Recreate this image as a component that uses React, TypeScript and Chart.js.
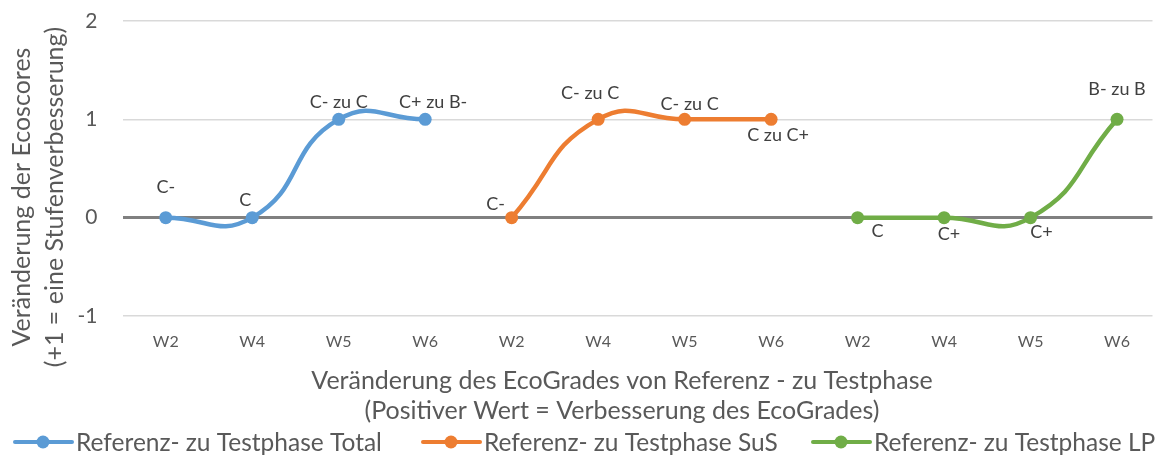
import React, { useEffect, useRef } from 'react';
import { Chart, registerables } from 'chart.js';

Chart.register(...registerables);

const categories = ['W2', 'W4', 'W5', 'W6', 'W2', 'W4', 'W5', 'W6', 'W2', 'W4', 'W5', 'W6'];
const seriesNames = [
  'Referenz- zu Testphase Total',
  'Referenz- zu Testphase SuS',
  'Referenz- zu Testphase LP',
];
const totalValues = [0, 0, 1, 1, null, null, null, null, null, null, null, null];
const susValues = [null, null, null, null, 0, 1, 1, 1, null, null, null, null];
const lpValues = [null, null, null, null, null, null, null, null, 0, 0, 0, 1];
const totalLabels = ['C-', 'C', 'C- zu C', 'C+ zu B-', '', '', '', '', '', '', '', ''];
const susLabels = ['', '', '', '', 'C-', 'C- zu C', 'C- zu C', 'C zu C+', '', '', '', ''];
const lpLabels = ['', '', '', '', '', '', '', '', 'C', 'C+', 'C+', 'B- zu B'];
const yTicks = [-1, 0, 1, 2];
const yTitle = ['Veränderung der Ecoscores', '(+1 = eine Stufenverbesserung)'];
const xTitle = [
  'Veränderung des EcoGrades von Referenz - zu Testphase',
  '(Positiver Wert = Verbesserung des EcoGrades)',
];

// label placement offsets (layout only)
const totalLabelOffsets = [[0, -30], [-7, -17], [0, -17], [8, -17]];
const susLabelOffsets = [[-16, -13], [-8, -26], [5, -15], [7, 16]];
const lpLabelOffsets = [[20, 14], [5, 17], [11, 15], [0, -30]];

const COLORS = ['#5B9BD5', '#ED7D31', '#70AD47'];
const FONT = 'Lato, "Open Sans", sans-serif';
const TEXT = '#595959';

function toPoints(values: (number | null)[]) {
  const pts: { x: number; y: number }[] = [];
  values.forEach((v, i) => {
    if (v !== null) pts.push({ x: i, y: v });
  });
  return pts;
}

const pointLabels = [totalLabels, susLabels, lpLabels];
const labelOffsets = [totalLabelOffsets, susLabelOffsets, lpLabelOffsets];

const overlayPlugin = {
  id: 'overlay',
  afterDatasetsDraw(chart: any) {
    const ctx = chart.ctx;
    ctx.save();
    // data labels
    ctx.font = `18px ${FONT}`;
    ctx.fillStyle = '#404040';
    ctx.textAlign = 'center';
    ctx.textBaseline = 'middle';
    chart.data.datasets.forEach((ds: any, di: number) => {
      const meta = chart.getDatasetMeta(di);
      meta.data.forEach((el: any, pi: number) => {
        const idx = ds.data[pi].x;
        const txt = pointLabels[di][idx];
        const off = labelOffsets[di][pi] || [0, -20];
        if (txt) ctx.fillText(txt, el.x + off[0], el.y + off[1]);
      });
    });

    // y title
    ctx.fillStyle = TEXT;
    ctx.font = `25px ${FONT}`;
    const cy = 197;
    [22, 55].forEach((x, i) => {
      ctx.save();
      ctx.translate(x, cy);
      ctx.rotate(-Math.PI / 2);
      ctx.fillText(yTitle[i], 0, 0);
      ctx.restore();
    });

    // x title
    ctx.fillText(xTitle[0], 622, 381);
    ctx.fillText(xTitle[1], 622, 411);

    // legend
    const legendX = [15, 423, 813];
    const ly = 442;
    ctx.textAlign = 'left';
    ctx.font = `24.5px ${FONT}`;
    seriesNames.forEach((name, i) => {
      const x0 = legendX[i];
      ctx.strokeStyle = COLORS[i];
      ctx.lineWidth = 4;
      ctx.lineCap = 'round';
      ctx.beginPath();
      ctx.moveTo(x0, ly);
      ctx.lineTo(x0 + 57, ly);
      ctx.stroke();
      ctx.fillStyle = COLORS[i];
      ctx.beginPath();
      ctx.arc(x0 + 28, ly, 6.5, 0, Math.PI * 2);
      ctx.fill();
      ctx.fillStyle = TEXT;
      ctx.fillText(name, x0 + 61, ly + 1);
    });
    ctx.restore();
  },
};

export default function App() {
  const canvasRef = useRef<HTMLCanvasElement>(null);

  useEffect(() => {
    if (!canvasRef.current) return;
    const seriesValues = [totalValues, susValues, lpValues];
    const chart = new Chart(canvasRef.current, {
      type: 'line',
      data: {
        datasets: seriesValues.map((vals, i) => ({
          label: seriesNames[i],
          data: toPoints(vals),
          borderColor: COLORS[i],
          backgroundColor: COLORS[i],
          pointBackgroundColor: COLORS[i],
          pointBorderWidth: 0,
          pointRadius: 6.5,
          borderWidth: 4.5,
          tension: 0.5,
          fill: false,
        })),
      },
      options: {
        animation: false,
        responsive: true,
        maintainAspectRatio: false,
        layout: { padding: { top: 21, right: 0, bottom: 0, left: 0 } },
        plugins: { legend: { display: false }, tooltip: { enabled: false } },
        scales: {
          x: {
            type: 'linear',
            min: -0.5,
            max: 11.41,
            afterBuildTicks: (s: any) => {
              s.ticks = categories.map((_, i) => ({ value: i }));
            },
            afterFit: (s: any) => {
              s.height = 140;
            },
            ticks: {
              callback: (v: any) => categories[v] ?? '',
              font: { family: FONT, size: 16 },
              color: TEXT,
              padding: 8,
              maxRotation: 0,
              autoSkip: false,
            },
            grid: { display: false },
            border: { display: false },
          },
          y: {
            min: -1,
            max: 2,
            afterBuildTicks: (s: any) => {
              s.ticks = yTicks.map((v) => ({ value: v }));
            },
            afterFit: (s: any) => {
              s.width = 122.5;
              s.paddingTop = 0;
              s.paddingBottom = 0;
            },
            ticks: {
              font: { family: FONT, size: 21 },
              color: TEXT,
              padding: 25,
            },
            grid: {
              drawTicks: false,
              color: (c: any) => (c.tick && c.tick.value === 0 ? '#808080' : '#D9D9D9'),
              lineWidth: (c: any) => (c.tick && c.tick.value === 0 ? 3 : 1.5),
            },
            border: { display: false },
          },
        },
      },
      plugins: [overlayPlugin],
    });
    return () => chart.destroy();
  }, []);

  return (
    <div style={{ position: 'fixed', left: 0, top: 0, width: 1159, height: 456, background: '#fff' }}>
      <canvas ref={canvasRef} />
    </div>
  );
}
